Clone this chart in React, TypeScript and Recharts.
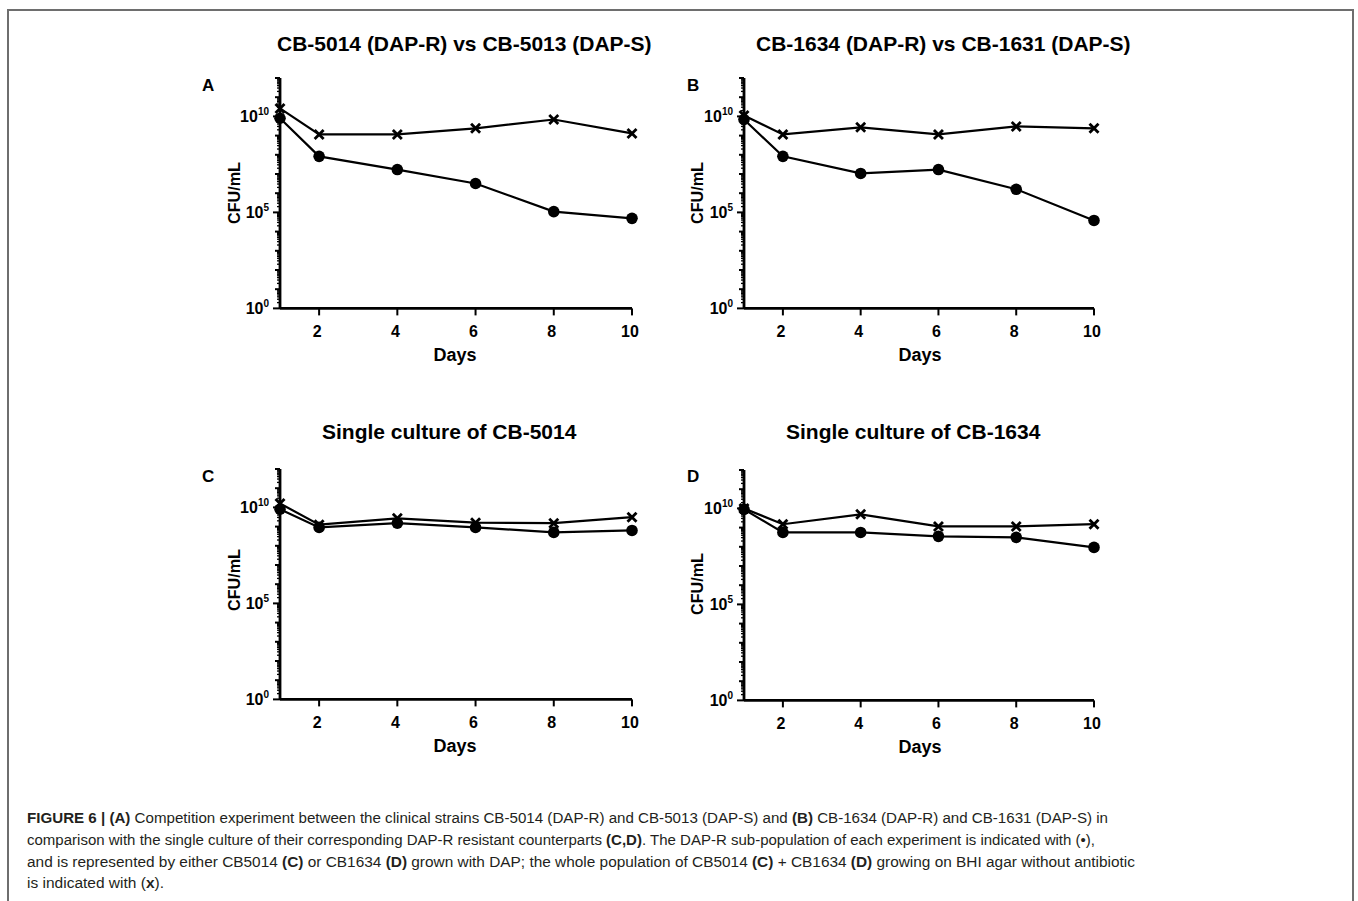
import React from 'react';
import { LineChart, Line, XAxis, YAxis } from 'recharts';

// ---- data (CFU/mL) ----
const DAYS = [1, 2, 4, 6, 8, 10];
const A_DAPR = [8e9, 8.3e7, 1.7e7, 3.2e6, 1.1e5, 4.9e4];
const A_TOTAL = [2.6e10, 1.15e9, 1.15e9, 2.4e9, 6.9e9, 1.3e9];
const B_DAPR = [6.9e9, 8.3e7, 1.07e7, 1.7e7, 1.6e6, 3.8e4];
const B_TOTAL = [1.1e10, 1.15e9, 2.7e9, 1.15e9, 3e9, 2.4e9];
const C_DAPR = [8e9, 9.1e8, 1.5e9, 9.1e8, 5e8, 6.3e8];
const C_TOTAL = [1.6e10, 1.26e9, 2.7e9, 1.6e9, 1.5e9, 3.1e9];
const D_DAPR = [8.9e9, 5.6e8, 5.6e8, 3.5e8, 3.1e8, 9.3e7];
const D_TOTAL = [1e10, 1.5e9, 4.9e9, 1.15e9, 1.15e9, 1.5e9];

const X_TICKS = [2, 4, 6, 8, 10];
const Y_DECADES = [1, 1e1, 1e2, 1e3, 1e4, 1e5, 1e6, 1e7, 1e8, 1e9, 1e10, 1e11, 1e12];
const Y_MAJOR_EXP = [0, 5, 10];
const Y_MINOR_MULT = [2, 3, 4, 5, 6, 7, 8, 9];

const TITLES = [
  'CB-5014 (DAP-R) vs CB-5013 (DAP-S)',
  'CB-1634 (DAP-R) vs CB-1631 (DAP-S)',
  'Single culture of CB-5014',
  'Single culture of CB-1634',
];
const LETTERS = ['A', 'B', 'C', 'D'];

const FONT = '"Liberation Sans", Arial, Helvetica, sans-serif';

const buildRows = (r: number[], t: number[]) =>
  DAYS.map((d, i) => ({ day: d, dapr: r[i], total: t[i] }));

const Y_TICKS: number[] = [];
Y_DECADES.forEach((d, i) => {
  Y_TICKS.push(d);
  if (i < Y_DECADES.length - 1) Y_MINOR_MULT.forEach((m) => Y_TICKS.push(d * m));
});

function YTick(props: any) {
  const { x, y, payload } = props;
  const v = payload.value;
  const e = Math.log10(v);
  const re = Math.round(e);
  const isDecade = Math.abs(e - re) < 1e-6;
  const isMajor = isDecade && Y_MAJOR_EXP.includes(re);
  const len = isMajor ? 7 : isDecade ? 5 : 3;
  return (
    <g>
      <line x1={x - len} x2={x} y1={y} y2={y} stroke="#000" strokeWidth={isDecade ? 2 : 1.3} />
      {isMajor && (
        <text x={x - 11} y={y + 6} textAnchor="end" fontFamily={FONT} fontWeight={700} fontSize={16} fill="#000">
          10<tspan dy={-7} fontSize={10}>{re}</tspan>
        </text>
      )}
    </g>
  );
}

function XTick(props: any) {
  const { x, y, payload } = props;
  return (
    <g>
      <line x1={x} x2={x} y1={y} y2={y + 7} stroke="#000" strokeWidth={2} />
      <text x={x - 2} y={y + 29} textAnchor="middle" fontFamily={FONT} fontWeight={700} fontSize={16} fill="#000">
        {payload.value}
      </text>
    </g>
  );
}

const renderCircle = (p: any) => (
  <circle key={`c-${p.index}`} cx={p.cx} cy={p.cy} r={5.8} fill="#000" />
);
const renderCross = (p: any) => {
  const s = 4.5;
  return (
    <g key={`x-${p.index}`}>
      <line x1={p.cx - s} y1={p.cy - s} x2={p.cx + s} y2={p.cy + s} stroke="#000" strokeWidth={2.8} />
      <line x1={p.cx - s} y1={p.cy + s} x2={p.cx + s} y2={p.cy - s} stroke="#000" strokeWidth={2.8} />
    </g>
  );
};

type PanelProps = { plotLeft: number; plotRight: number; plotBottom: number; data: any[] };

function Panel({ plotLeft, plotRight, plotBottom, data }: PanelProps) {
  const decade = 19.2;
  const plotTop = plotBottom - 12 * decade;
  const mTop = 20, mRight = 30, mLeft = 40, yW = 60, mBottom = 20, xH = 40;
  const width = plotRight - plotLeft + mLeft + yW + mRight;
  const height = plotBottom - plotTop + mTop + mBottom + xH;
  return (
    <div style={{ position: 'absolute', left: plotLeft - mLeft - yW, top: plotTop - mTop, width, height }}>
      <LineChart width={width} height={height} data={data} margin={{ top: mTop, right: mRight, left: mLeft, bottom: mBottom }}>
        <XAxis
          dataKey="day"
          type="number"
          domain={[1, 10]}
          ticks={X_TICKS}
          interval={0}
          tickSize={0}
          tickMargin={0}
          tickLine={false}
          tick={<XTick />}
          axisLine={{ stroke: '#000', strokeWidth: 2.8 }}
          height={xH}
        />
        <YAxis
          type="number"
          scale="log"
          domain={[1, 1e12]}
          ticks={Y_TICKS}
          interval={0}
          tickSize={0}
          tickMargin={0}
          tickLine={false}
          tick={<YTick />}
          axisLine={{ stroke: '#000', strokeWidth: 2.8 }}
          width={yW}
          allowDataOverflow
        />
        <Line
          name="Whole population (x)"
          dataKey="total"
          stroke="#000"
          strokeWidth={2.2}
          dot={renderCross}
          isAnimationActive={false}
          type="linear"
        />
        <Line
          name="DAP-R sub-population (●)"
          dataKey="dapr"
          stroke="#000"
          strokeWidth={2.2}
          dot={renderCircle}
          isAnimationActive={false}
          type="linear"
        />
      </LineChart>
    </div>
  );
}

const PANELS = [
  { plotLeft: 280, plotRight: 632, plotBottom: 308.3, data: buildRows(A_DAPR, A_TOTAL) },
  { plotLeft: 744, plotRight: 1094, plotBottom: 308.3, data: buildRows(B_DAPR, B_TOTAL) },
  { plotLeft: 280, plotRight: 632, plotBottom: 699.3, data: buildRows(C_DAPR, C_TOTAL) },
  { plotLeft: 744, plotRight: 1094, plotBottom: 700, data: buildRows(D_DAPR, D_TOTAL) },
];

const TITLE_POS = [
  { x: 277, y: 51 },
  { x: 756, y: 51 },
  { x: 322, y: 439 },
  { x: 786, y: 439 },
];
const LETTER_POS = [
  { x: 202, y: 91 },
  { x: 687, y: 91 },
  { x: 202, y: 482 },
  { x: 687, y: 482 },
];
const YLABEL_POS = [
  { x: 240, y: 193 },
  { x: 703, y: 193 },
  { x: 240, y: 580 },
  { x: 703, y: 584 },
];
const XLABEL_POS = [
  { x: 455, y: 361 },
  { x: 920, y: 361 },
  { x: 455, y: 752 },
  { x: 920, y: 753 },
];

const B = (t: string) => <tspan fontWeight={700}>{t}</tspan>;

export default function App() {
  return (
    <div style={{ position: 'absolute', left: 0, top: 0, width: 1358, height: 901, background: '#fff', overflow: 'hidden' }}>
      <div
        style={{
          position: 'absolute',
          left: 7,
          top: 9,
          width: 1347,
          height: 920,
          borderTop: '2px solid #6e6e6e',
          borderLeft: '2px solid #6e6e6e',
          borderRight: '2px solid #6e6e6e',
          boxSizing: 'border-box',
        }}
      />
      {PANELS.map((p, i) => (
        <Panel key={i} {...p} />
      ))}
      <svg width={1358} height={901} style={{ position: 'absolute', left: 0, top: 0, pointerEvents: 'none' }}>
        {TITLES.map((t, i) => (
          <text key={t} x={TITLE_POS[i].x} y={TITLE_POS[i].y} fontFamily={FONT} fontWeight={700} fontSize={21} fill="#000">
            {t}
          </text>
        ))}
        {LETTERS.map((l, i) => (
          <text key={l} x={LETTER_POS[i].x} y={LETTER_POS[i].y} fontFamily={FONT} fontWeight={700} fontSize={17} fill="#000">
            {l}
          </text>
        ))}
        {YLABEL_POS.map((p, i) => (
          <text
            key={`yl${i}`}
            x={p.x}
            y={p.y}
            transform={`rotate(-90 ${p.x} ${p.y})`}
            textAnchor="middle"
            fontFamily={FONT}
            fontWeight={700}
            fontSize={16}
            textLength={62}
            lengthAdjust="spacingAndGlyphs"
            fill="#000"
          >
            CFU/mL
          </text>
        ))}
        {XLABEL_POS.map((p, i) => (
          <text key={`xl${i}`} x={p.x} y={p.y} textAnchor="middle" fontFamily={FONT} fontWeight={700} fontSize={18} fill="#000">
            Days
          </text>
        ))}
        <g fontFamily={FONT} fontSize={15.5} fill="#231f20" style={{ whiteSpace: 'pre' }}>
          <text x={27} y={823} textLength={1081} lengthAdjust="spacingAndGlyphs">
            {B('FIGURE 6 | (A)')}
            <tspan>{' Competition experiment between the clinical strains CB-5014 (DAP-R) and CB-5013 (DAP-S) and '}</tspan>
            {B('(B)')}
            <tspan>{' CB-1634 (DAP-R) and CB-1631 (DAP-S) in'}</tspan>
          </text>
          <text x={27} y={845} textLength={1068} lengthAdjust="spacingAndGlyphs">
            <tspan>{'comparison with the single culture of their corresponding DAP-R resistant counterparts '}</tspan>
            {B('(C,D)')}
            <tspan>{'. The DAP-R sub-population of each experiment is indicated with (•),'}</tspan>
          </text>
          <text x={27} y={866.5} textLength={1108} lengthAdjust="spacingAndGlyphs">
            <tspan>{'and is represented by either CB5014 '}</tspan>
            {B('(C)')}
            <tspan>{' or CB1634 '}</tspan>
            {B('(D)')}
            <tspan>{' grown with DAP; the whole population of CB5014 '}</tspan>
            {B('(C)')}
            <tspan>{' + CB1634 '}</tspan>
            {B('(D)')}
            <tspan>{' growing on BHI agar without antibiotic'}</tspan>
          </text>
          <text x={27} y={888}>
            <tspan>{'is indicated with ('}</tspan>
            {B('x')}
            <tspan>{').'}</tspan>
          </text>
        </g>
      </svg>
    </div>
  );
}
